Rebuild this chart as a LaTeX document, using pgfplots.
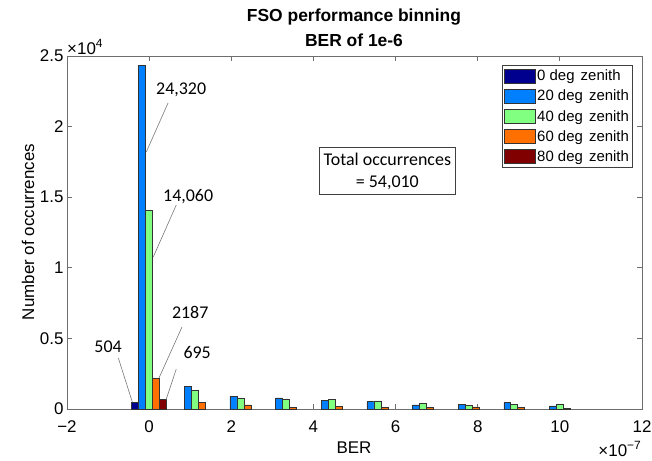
\documentclass[border=0pt]{standalone}
\usepackage{fontspec}
\setmainfont{Liberation Sans}
\newfontfamily\calib{Carlito}
\usepackage{pgfplots}
\pgfplotsset{compat=1.18}
\definecolor{c0}{RGB}{0,0,143}
\definecolor{c20}{RGB}{0,128,255}
\definecolor{c40}{RGB}{128,255,128}
\definecolor{c60}{RGB}{255,112,0}
\definecolor{c80}{RGB}{128,0,0}
\definecolor{axgray}{RGB}{110,110,110}
\definecolor{leader}{RGB}{120,120,120}

\pgfplotstableread{
x      z0     z20    z40    z60   z80
0      504    24320  14060  2187  695
}\groupzero
\pgfplotstableread{
x        z20   z40   z60
0        24320 14060 2187
1.1111   1620  1340  450
2.2222   920   750   290
3.3333   780   660   130
4.4444   620   670   170
5.5556   520   570   110
6.6667   290   400   110
7.7778   330   240   150
8.8889   450   330   100
10       220   360   60
}\bins

\begin{document}
\begin{tikzpicture}[font=\fontsize{17}{20}\selectfont]
\useasboundingbox (0,0) rectangle (652bp,461bp);
\begin{axis}[
  at={(67bp,52bp)}, anchor=south west,
  scale only axis, width=575bp, height=353bp,
  xmin=-2, xmax=12, ymin=0, ymax=25000,
  xtick={-2,0,...,12}, xticklabels={−2,0,2,4,6,8,10,12},
  ytick={0,5000,...,25000}, yticklabels={0,0.5,1,1.5,2,2.5},
  scaled ticks=false,
  /pgf/number format/assume math mode=true,
  tick align=inside, major tick length=5bp,
  axis line style={axgray, line width=0.8bp},
  tick style={axgray, line width=0.8bp},
  xticklabel style={yshift=-8bp},
  every axis plot/.append style={draw=black!80, line width=0.5bp},
  legend style={at={(0.983,0.975)}, anchor=north east, draw=black!75,
    line width=0.6bp, font=\fontsize{15}{18}\selectfont,
    inner xsep=1bp, inner ysep=1bp, row sep=0pt,
    nodes={inner ysep=3.9bp, inner xsep=2bp}},
  legend cell align=left,
  legend image code/.code={\draw[#1] (0bp,-7bp) rectangle (31bp,7bp);},
]
\addplot[ybar, bar width=0.17, bar shift=-0.34, fill=c0, draw=black!80] table[x=x, y=z0] {\groupzero};
\addplot[ybar, bar width=0.17, bar shift=-0.17, fill=c20, draw=black!80] table[x=x, y=z20] {\bins};
\addplot[ybar, bar width=0.17, bar shift=0, fill=c40, draw=black!80] table[x=x, y=z40] {\bins};
\addplot[ybar, bar width=0.17, bar shift=0.17, fill=c60, draw=black!80] table[x=x, y=z60] {\bins};
\addplot[ybar, bar width=0.17, bar shift=0.34, fill=c80, draw=black!80] table[x=x, y=z80] {\groupzero};
\legend{0 deg\kern2bp\ zenith, 20 deg\kern2bp\ zenith, 40 deg\kern2bp\ zenith, 60 deg\kern2bp\ zenith, 80 deg\kern2bp\ zenith}

% annotations
\begin{scope}[every node/.style={font=\calib\fontsize{18}{22}\selectfont}]
\node at (axis cs:0.78,22592) {24,320};
\draw[leader, line width=0.6bp] (axis cs:0.46,21671) -- (axis cs:-0.07,18200);
\node at (axis cs:0.95,15014) {14,060};
\draw[leader, line width=0.6bp] (axis cs:0.66,14447) -- (axis cs:0.10,10765);
\node at (axis cs:1.0,6870) {2187};
\draw[leader, line width=0.6bp] (axis cs:0.80,5807) -- (axis cs:0.24,2195);
\node at (axis cs:1.17,3966) {695};
\draw[leader, line width=0.6bp] (axis cs:0.66,2833) -- (axis cs:0.41,637);
\node at (axis cs:-1.0,4391) {504};
\draw[leader, line width=0.6bp] (axis cs:-0.75,3612) -- (axis cs:-0.41,496);
\node[draw=black!75, line width=0.8bp, align=center, inner xsep=4bp, inner ysep=5bp]
  at (axis cs:5.8,16855) {Total occurrences\\= 54,010};
\end{scope}
\end{axis}
% titles and labels
\node[font=\bfseries\fontsize{17.5}{20}\selectfont] at (354bp,444bp) {FSO performance binning};
\node[font=\bfseries\fontsize{17.5}{20}\selectfont] at (354bp,421bp) {BER of 1e-6};
\node[anchor=west, inner sep=0pt] at (67bp,414bp) {×10\raisebox{0.45em}{\fontsize{12}{14}\selectfont 4}};
\node[anchor=east, inner sep=0pt] at (641bp,12bp) {×10\raisebox{0.45em}{\fontsize{12}{14}\selectfont −7}};
\node[rotate=90] at (28bp,229bp) {Number of occurrences};
\node at (354bp,13bp) {BER};
\end{tikzpicture}
\end{document}
